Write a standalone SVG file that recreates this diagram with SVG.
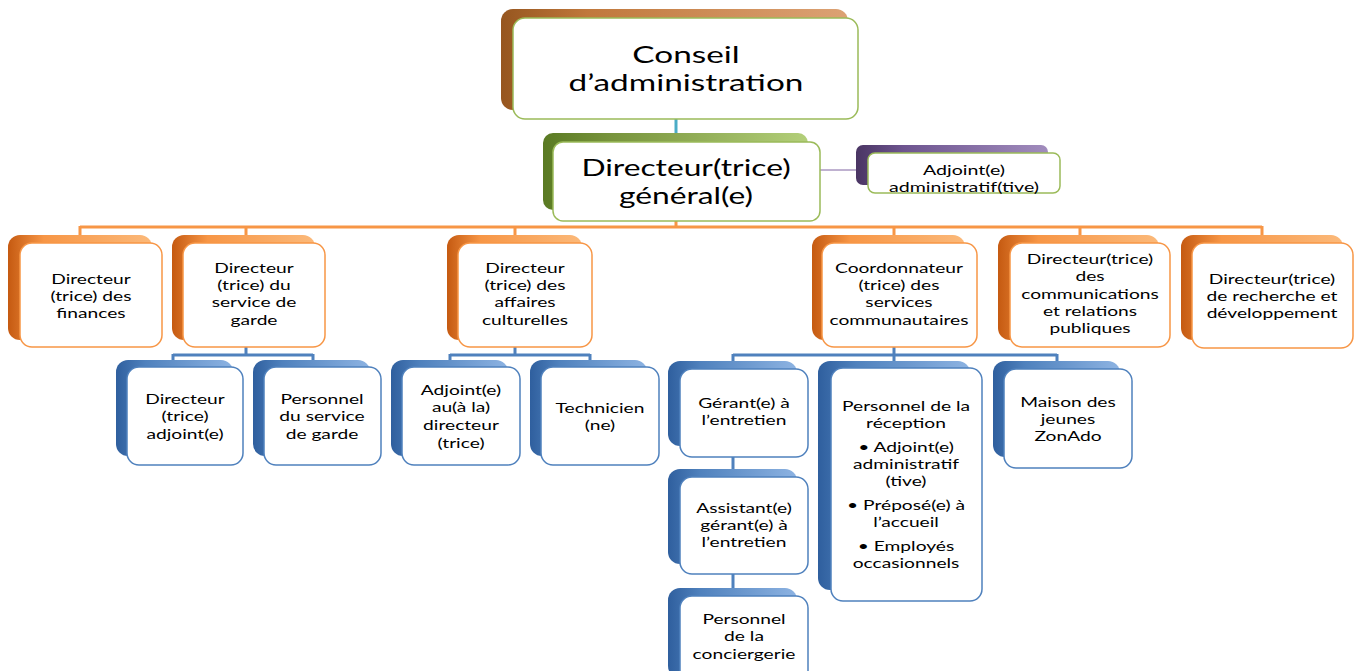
<svg xmlns="http://www.w3.org/2000/svg" width="1359" height="671" viewBox="0 0 1359 671">
<defs>
<linearGradient id="gO" x1="0" y1="0" x2="1" y2="0"><stop offset="0" stop-color="#c55a11"/><stop offset="0.25" stop-color="#f79646"/><stop offset="1" stop-color="#fbb97a"/></linearGradient>
<linearGradient id="gB" x1="0" y1="0" x2="1" y2="0"><stop offset="0" stop-color="#2f5f9e"/><stop offset="0.25" stop-color="#4f81bd"/><stop offset="1" stop-color="#8db3e2"/></linearGradient>
<linearGradient id="gG" x1="0" y1="0" x2="1" y2="0"><stop offset="0" stop-color="#5a7a23"/><stop offset="0.25" stop-color="#77933c"/><stop offset="1" stop-color="#b3cf7a"/></linearGradient>
<linearGradient id="gR" x1="0" y1="0" x2="1" y2="0"><stop offset="0" stop-color="#96561f"/><stop offset="0.25" stop-color="#c0783c"/><stop offset="1" stop-color="#dca274"/></linearGradient>
<linearGradient id="gP" x1="0" y1="0" x2="1" y2="0"><stop offset="0" stop-color="#4a3563"/><stop offset="0.25" stop-color="#6e5590"/><stop offset="1" stop-color="#a18cbd"/></linearGradient>
</defs>
<style>
.bo{fill:url(#gO)} .bb{fill:url(#gB)} .bg{fill:url(#gG)} .br{fill:url(#gR)} .bp{fill:url(#gP)}
.fo{fill:#fff;stroke:#f79646;stroke-width:1.5}
.fb{fill:#fff;stroke:#4f81bd;stroke-width:1.5}
.fg{fill:#fff;stroke:#9bbb59;stroke-width:1.5}
.t{font-family:Lato,"Open Sans","Liberation Sans",sans-serif;font-size:14px;fill:#000;text-anchor:middle}
.tb{font-family:Lato,"Open Sans","Liberation Sans",sans-serif;font-size:23px;fill:#000;text-anchor:middle}
.cO{stroke:#f79646;stroke-width:3;fill:none}
.cB{stroke:#4f81bd;stroke-width:3;fill:none}
.cT{stroke:#4bacc6;stroke-width:3;fill:none}
.cP{stroke:#8064a2;stroke-width:1;fill:none}
</style>
<g id="connectors">
<path class="cT" d="M676,119 V136"/>
<path class="cP" d="M820,170 H862"/>
<path class="cO" d="M676,221 V227 M80,227 H1262 M80,226 V238 M246,226 V238 M515,226 V238 M894,226 V238 M1080,226 V238 M1262,226 V238"/>
<path class="cB" d="M246,347 V355 M173,355 H313 M173,354 V362 M313,354 V362"/>
<path class="cB" d="M515,347 V355 M450,355 H590 M450,354 V362 M590,354 V362"/>
<path class="cB" d="M894,347 V355 M733,355 H1057 M733,354 V592 M894,354 V362 M1057,354 V362"/>
</g>
<g id="conseil">
<rect class="br" x="501" y="9" width="347" height="101" rx="12"/>
<rect class="fg" x="513" y="18" width="345" height="101" rx="12"/>
<g transform="translate(686 0) scale(1.45 1)"><text class="tb"><tspan x="0" y="63">Conseil</tspan><tspan x="0" y="91">d’administration</tspan></text></g>
</g>
<g id="directeur-general">
<rect class="bg" x="543" y="133" width="265" height="77" rx="10"/>
<rect class="fg" x="553" y="142" width="267" height="79" rx="10"/>
<g transform="translate(686 0) scale(1.38 1)"><text class="tb"><tspan x="0" y="176">Directeur(trice)</tspan><tspan x="0" y="204">général(e)</tspan></text></g>
</g>
<g id="adjoint-admin">
<rect class="bp" x="856" y="145" width="192" height="40" rx="7"/>
<rect class="fg" x="868" y="153" width="192" height="40" rx="7"/>
<g transform="translate(964 0) scale(1.4 1)"><text class="t"><tspan x="0" y="175">Adjoint(e)</tspan><tspan x="0" y="192">administratif(tive)</tspan></text></g>
</g>
<g id="finances">
<rect class="bo" x="8" y="235" width="144" height="105" rx="12"/>
<rect class="fo" x="20" y="243" width="142" height="104" rx="12"/>
<g transform="translate(91 0) scale(1.37 1)"><text class="t"><tspan x="0" y="284">Directeur</tspan><tspan x="0" y="301">(trice) des</tspan><tspan x="0" y="318">finances</tspan></text></g>
</g>
<g id="service-garde">
<rect class="bo" x="172" y="235" width="143" height="105" rx="12"/>
<rect class="fo" x="183" y="243" width="142" height="104" rx="12"/>
<g transform="translate(254 0) scale(1.37 1)"><text class="t"><tspan x="0" y="273">Directeur</tspan><tspan x="0" y="290">(trice) du</tspan><tspan x="0" y="307">service de</tspan><tspan x="0" y="325">garde</tspan></text></g>
</g>
<g id="affaires-culturelles">
<rect class="bo" x="447" y="235" width="135" height="105" rx="12"/>
<rect class="fo" x="458" y="243" width="134" height="104" rx="12"/>
<g transform="translate(525 0) scale(1.37 1)"><text class="t"><tspan x="0" y="273">Directeur</tspan><tspan x="0" y="290">(trice) des</tspan><tspan x="0" y="307">affaires</tspan><tspan x="0" y="325">culturelles</tspan></text></g>
</g>
<g id="coordonnateur">
<rect class="bo" x="812" y="235" width="153" height="105" rx="12"/>
<rect class="fo" x="822" y="243" width="155" height="104" rx="12"/>
<g transform="translate(899 0) scale(1.37 1)"><text class="t"><tspan x="0" y="273">Coordonnateur</tspan><tspan x="0" y="290">(trice) des</tspan><tspan x="0" y="307">services</tspan><tspan x="0" y="325">communautaires</tspan></text></g>
</g>
<g id="communications">
<rect class="bo" x="998" y="235" width="161" height="105" rx="12"/>
<rect class="fo" x="1010" y="243" width="160" height="104" rx="12"/>
<g transform="translate(1090 0) scale(1.37 1)"><text class="t"><tspan x="0" y="264">Directeur(trice)</tspan><tspan x="0" y="281">des</tspan><tspan x="0" y="299">communications</tspan><tspan x="0" y="316">et relations</tspan><tspan x="0" y="333">publiques</tspan></text></g>
</g>
<g id="recherche">
<rect class="bo" x="1181" y="235" width="162" height="105" rx="12"/>
<rect class="fo" x="1192" y="243" width="161" height="105" rx="12"/>
<g transform="translate(1272 0) scale(1.37 1)"><text class="t"><tspan x="0" y="284">Directeur(trice)</tspan><tspan x="0" y="301">de recherche et</tspan><tspan x="0" y="318">développement</tspan></text></g>
</g>
<g id="directeur-adjoint">
<rect class="bb" x="116" y="360" width="117" height="96" rx="12"/>
<rect class="fb" x="127" y="367" width="116" height="98" rx="12"/>
<g transform="translate(185 0) scale(1.37 1)"><text class="t"><tspan x="0" y="404">Directeur</tspan><tspan x="0" y="421">(trice)</tspan><tspan x="0" y="439">adjoint(e)</tspan></text></g>
</g>
<g id="personnel-garde">
<rect class="bb" x="253" y="360" width="117" height="96" rx="12"/>
<rect class="fb" x="264" y="367" width="117" height="98" rx="12"/>
<g transform="translate(322 0) scale(1.37 1)"><text class="t"><tspan x="0" y="404">Personnel</tspan><tspan x="0" y="421">du service</tspan><tspan x="0" y="439">de garde</tspan></text></g>
</g>
<g id="adjoint-directeur">
<rect class="bb" x="391" y="360" width="117" height="96" rx="12"/>
<rect class="fb" x="402" y="367" width="118" height="98" rx="12"/>
<g transform="translate(461 0) scale(1.37 1)"><text class="t"><tspan x="0" y="395">Adjoint(e)</tspan><tspan x="0" y="412">au(à la)</tspan><tspan x="0" y="430">directeur</tspan><tspan x="0" y="448">(trice)</tspan></text></g>
</g>
<g id="technicien">
<rect class="bb" x="530" y="360" width="117" height="96" rx="12"/>
<rect class="fb" x="541" y="367" width="118" height="98" rx="12"/>
<g transform="translate(600 0) scale(1.37 1)"><text class="t"><tspan x="0" y="413">Technicien</tspan><tspan x="0" y="430">(ne)</tspan></text></g>
</g>
<g id="gerant">
<rect class="bb" x="668" y="361" width="129" height="85" rx="12"/>
<rect class="fb" x="680" y="369" width="128" height="88" rx="12"/>
<g transform="translate(744 0) scale(1.37 1)"><text class="t"><tspan x="0" y="408">Gérant(e) à</tspan><tspan x="0" y="425">l’entretien</tspan></text></g>
</g>
<g id="assistant-gerant">
<rect class="bb" x="668" y="469" width="129" height="95" rx="12"/>
<rect class="fb" x="680" y="477" width="128" height="97" rx="12"/>
<g transform="translate(744 0) scale(1.37 1)"><text class="t"><tspan x="0" y="513">Assistant(e)</tspan><tspan x="0" y="530">gérant(e) à</tspan><tspan x="0" y="547">l’entretien</tspan></text></g>
</g>
<g id="conciergerie">
<rect class="bb" x="668" y="588" width="129" height="90" rx="12"/>
<rect class="fb" x="680" y="596" width="128" height="90" rx="12"/>
<g transform="translate(744 0) scale(1.37 1)"><text class="t"><tspan x="0" y="624">Personnel</tspan><tspan x="0" y="641">de la</tspan><tspan x="0" y="659">conciergerie</tspan></text></g>
</g>
<g id="reception">
<rect class="bb" x="818" y="361" width="152" height="229" rx="12"/>
<rect class="fb" x="831" y="368" width="151" height="233" rx="12"/>
<g transform="translate(906 0) scale(1.37 1)"><text class="t"><tspan x="0" y="411">Personnel de la</tspan><tspan x="0" y="428">réception</tspan><tspan x="0" y="452">• Adjoint(e)</tspan><tspan x="0" y="469">administratif</tspan><tspan x="0" y="486">(tive)</tspan><tspan x="0" y="510">• Préposé(e) à</tspan><tspan x="0" y="527">l’accueil</tspan><tspan x="0" y="551">• Employés</tspan><tspan x="0" y="568">occasionnels</tspan></text></g>
</g>
<g id="maison-jeunes">
<rect class="bb" x="993" y="361" width="127" height="96" rx="12"/>
<rect class="fb" x="1004" y="369" width="128" height="99" rx="12"/>
<g transform="translate(1068 0) scale(1.37 1)"><text class="t"><tspan x="0" y="407">Maison des</tspan><tspan x="0" y="424">jeunes</tspan><tspan x="0" y="441">ZonAdo</tspan></text></g>
</g>
</svg>
